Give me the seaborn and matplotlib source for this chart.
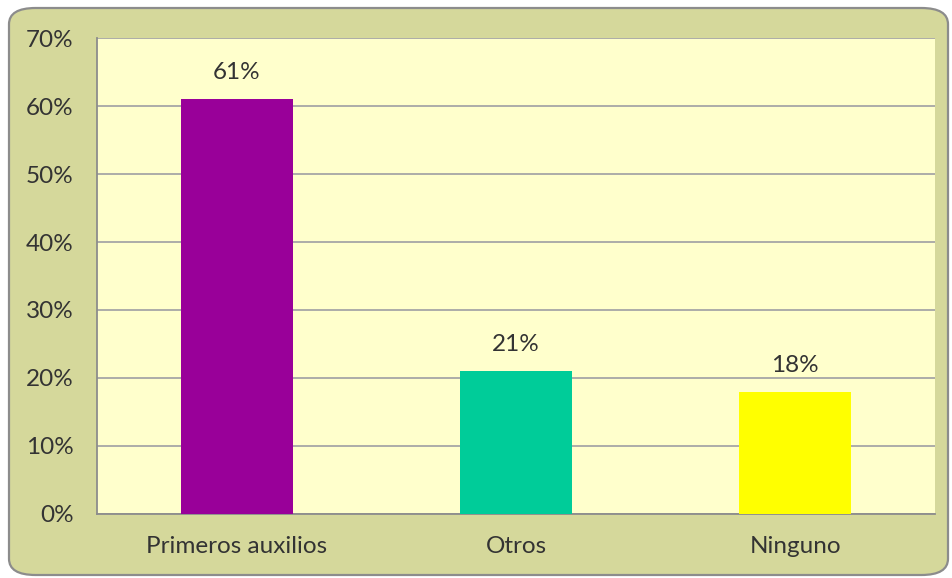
import matplotlib
matplotlib.use("Agg")
import matplotlib.pyplot as plt
from matplotlib.patches import FancyBboxPatch
from matplotlib.ticker import FuncFormatter, FixedLocator, NullFormatter
import seaborn as sns
import pandas as pd

# datos
categorias = ["Primeros auxilios", "Otros", "Ninguno"]
valores = [61, 21, 18]
etiquetas = ["61%", "21%", "18%"]
colores = ["#990099", "#00cc99", "#ffff00"]

df = pd.DataFrame({"cat": categorias, "val": valores})

sns.set_style("white")
plt.rcParams["font.family"] = ["Lato", "DejaVu Sans"]

fig = plt.figure(figsize=(9.52, 5.78), dpi=100)
fig.patch.set_facecolor("white")

# fondo redondeado
marco = FancyBboxPatch((9 / 952, 3 / 578), 939 / 952, 567 / 578,
                       boxstyle="round,pad=0,rounding_size=0.028",
                       transform=fig.transFigure, facecolor="#d5d89b",
                       edgecolor="#8c8c8c", linewidth=1.6, zorder=-5)
fig.add_artist(marco)

ax = fig.add_axes([0.102, 0.111, 0.880, 0.823])
ax.set_zorder(2)
ax.set_facecolor("#ffffcc")

sns.barplot(data=df, x="cat", y="val", hue="cat", palette=colores,
            width=0.4, legend=False, ax=ax, saturation=1, zorder=3,
            linewidth=0)

for i, (v, t) in enumerate(zip(valores, etiquetas)):
    ax.text(i, v + 3.9, t, ha="center", va="center", fontsize=17.5, color="#333333")

ax.set_ylim(0, 70)
ax.set_xlim(-0.5, 2.5)
ax.set_yticks(range(0, 71, 10))
ax.yaxis.set_major_formatter(FuncFormatter(lambda v, p: f"{int(v)}%"))
ax.grid(axis="y", color="#a6a6a6", linewidth=1.3, zorder=1)
ax.set_axisbelow(True)

# marcas del eje x en los limites de las categorias
ax.xaxis.set_major_locator(FixedLocator([-0.5, 0.5, 1.5, 2.5]))
ax.xaxis.set_major_formatter(NullFormatter())
ax.xaxis.set_minor_locator(FixedLocator([0, 1, 2]))
ax.set_xticklabels(categorias, minor=True)
ax.tick_params(axis="x", which="major", length=6, color="#8c8c8c", width=1.3)
ax.tick_params(axis="x", which="minor", length=0, pad=16, labelsize=17.5, labelcolor="#333333")
ax.tick_params(axis="y", length=7, color="#8c8c8c", width=1.3, pad=10,
               labelsize=17.5, labelcolor="#333333")

for s in ["top", "right"]:
    ax.spines[s].set_visible(False)
for s in ["left", "bottom"]:
    ax.spines[s].set_color("#8c8c8c")
    ax.spines[s].set_linewidth(1.3)

ax.set_xlabel("")
ax.set_ylabel("")

fig.savefig("out.png", dpi=100)
